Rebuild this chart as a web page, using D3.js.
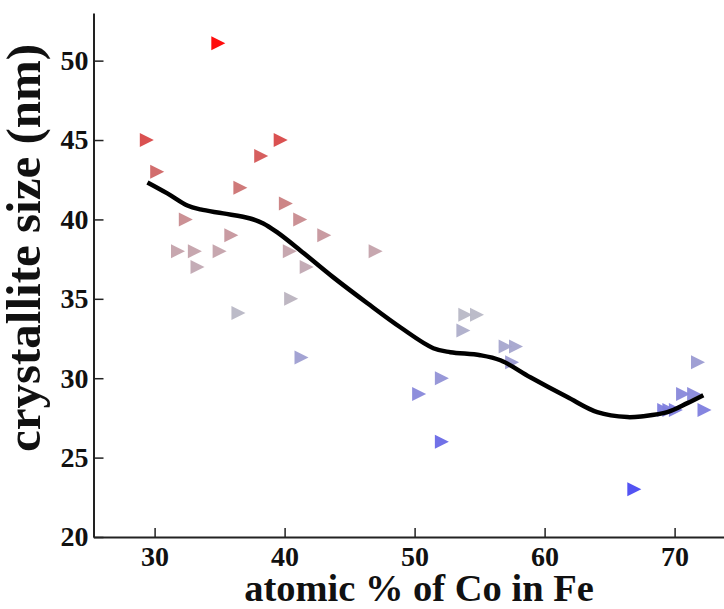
<!DOCTYPE html>
<html>
<head>
<meta charset="utf-8">
<script src="https://cdn.jsdelivr.net/npm/d3@7"></script>
<style>
  body { margin: 0; background: #fff; }
  svg { display: block; }
  .tick text { font-family: "Liberation Serif", "Times New Roman", serif; font-weight: bold; font-size: 28px; fill: #111; }
  .axis-title { font-family: "Liberation Serif", "Times New Roman", serif; font-weight: bold; fill: #111; }
</style>
</head>
<body>
<div id="chart"></div>
<script>
// measured points: atomic % Co (x) vs crystallite size in nm (y)
const coPercent = [29.4, 30.2, 34.9, 32.4, 31.8, 33.1, 33.3, 35.0, 35.9, 36.6,
  36.45, 38.2, 39.7, 40.1, 41.2, 40.4, 41.7, 43.05, 40.5, 41.3,
  47.0, 53.9, 54.8, 53.75, 57.0, 57.8, 57.5, 52.1, 50.35, 52.1,
  71.8, 70.65, 71.5, 72.3, 69.2, 69.6, 70.1, 66.9];
const crystalSize = [45.0, 43.0, 51.1, 40.0, 38.0, 38.0, 37.0, 38.0, 39.0, 42.0,
  34.1, 44.0, 45.0, 41.0, 40.0, 38.0, 37.0, 39.0, 35.0, 31.3,
  38.0, 34.0, 34.0, 33.0, 32.0, 32.0, 31.0, 30.0, 29.0, 26.0,
  31.0, 29.0, 29.0, 28.0, 28.0, 28.0, 28.0, 23.0];

// smoothed trend line
const fitX = [29.45, 30.98, 32.52, 33.52, 35.28, 37.36, 38.36, 39.44, 41.21, 43.75,
  46.37, 48.9, 51.44, 52.75, 55.05, 56.6, 58.9, 61.75, 64.05, 66.36,
  67.59, 69.44, 70.98, 72.21];
const fitY = [42.33, 41.64, 40.88, 40.63, 40.38, 40.06, 39.75, 39.18, 38.05, 36.35,
  34.72, 33.21, 31.89, 31.64, 31.45, 31.13, 30.06, 28.81, 27.86, 27.55,
  27.61, 27.86, 28.43, 28.93];

const xTicks = [30, 40, 50, 60, 70];
const yTicks = [20, 25, 30, 35, 40, 45, 50];

const width = 724, height = 609;

const svg = d3.select('#chart').append('svg')
  .attr('width', width)
  .attr('height', height);

const x = d3.scaleLinear().domain([25.3, 73.8]).range([93.5, 724]);
const y = d3.scaleLinear().domain([20, 53]).range([537, 13]);

// colour by size: blue (small) -> grey -> red (large)
const color = d3.scaleLinear()
  .domain([23, 29, 34, 38, 42, 45, 51])
  .range(['#4a4af2', '#8888da', '#b8b8c6', '#c4a2ab', '#cc7373', '#d84848', '#ff0000']);

const pts = coPercent.map((c, i) => ({ x: c, y: crystalSize[i] }));
const fit = fitX.map((c, i) => ({ x: c, y: fitY[i] }));

// markers (right-pointing triangles)
const tri = 'M-7,-7L7,0L-7,7Z';
svg.append('g')
  .selectAll('path')
  .data(pts)
  .enter()
  .append('path')
  .attr('d', tri)
  .attr('transform', d => `translate(${x(d.x)},${y(d.y)})`)
  .attr('fill', d => color(d.y))
  .attr('fill-opacity', 0.95);

// trend curve
const line = d3.line()
  .x(d => x(d.x))
  .y(d => y(d.y))
  .curve(d3.curveCatmullRom.alpha(0.5));

svg.append('path')
  .datum(fit)
  .attr('d', line)
  .attr('fill', 'none')
  .attr('stroke', '#000')
  .attr('stroke-width', 4.5)
  .attr('stroke-linecap', 'butt');

// axes, ticks pointing inward
const xAxis = d3.axisBottom(x)
  .tickValues(xTicks)
  .tickSizeInner(-9)
  .tickSizeOuter(0)
  .tickPadding(9);

const yAxis = d3.axisLeft(y)
  .tickValues(yTicks)
  .tickSizeInner(-10)
  .tickSizeOuter(0)
  .tickPadding(5);

const gx = svg.append('g')
  .attr('transform', `translate(0,${y(20)})`)
  .call(xAxis);

const gy = svg.append('g')
  .attr('transform', `translate(${x(25.3)},0)`)
  .call(yAxis);

[gx, gy].forEach(g => {
  g.select('.domain').attr('stroke', '#222').attr('stroke-width', 2);
  g.selectAll('.tick line').attr('stroke', '#222').attr('stroke-width', 1.5);
});

// axis titles
svg.append('text')
  .attr('class', 'axis-title')
  .attr('x', 419)
  .attr('y', 601)
  .attr('text-anchor', 'middle')
  .style('font-size', '38.5px')
  .text('atomic % of Co in Fe');

svg.append('text')
  .attr('class', 'axis-title')
  .attr('transform', 'translate(40,248) rotate(-90)')
  .attr('text-anchor', 'middle')
  .style('font-size', '49px')
  .text('crystallite size (nm)');
</script>
</body>
</html>
